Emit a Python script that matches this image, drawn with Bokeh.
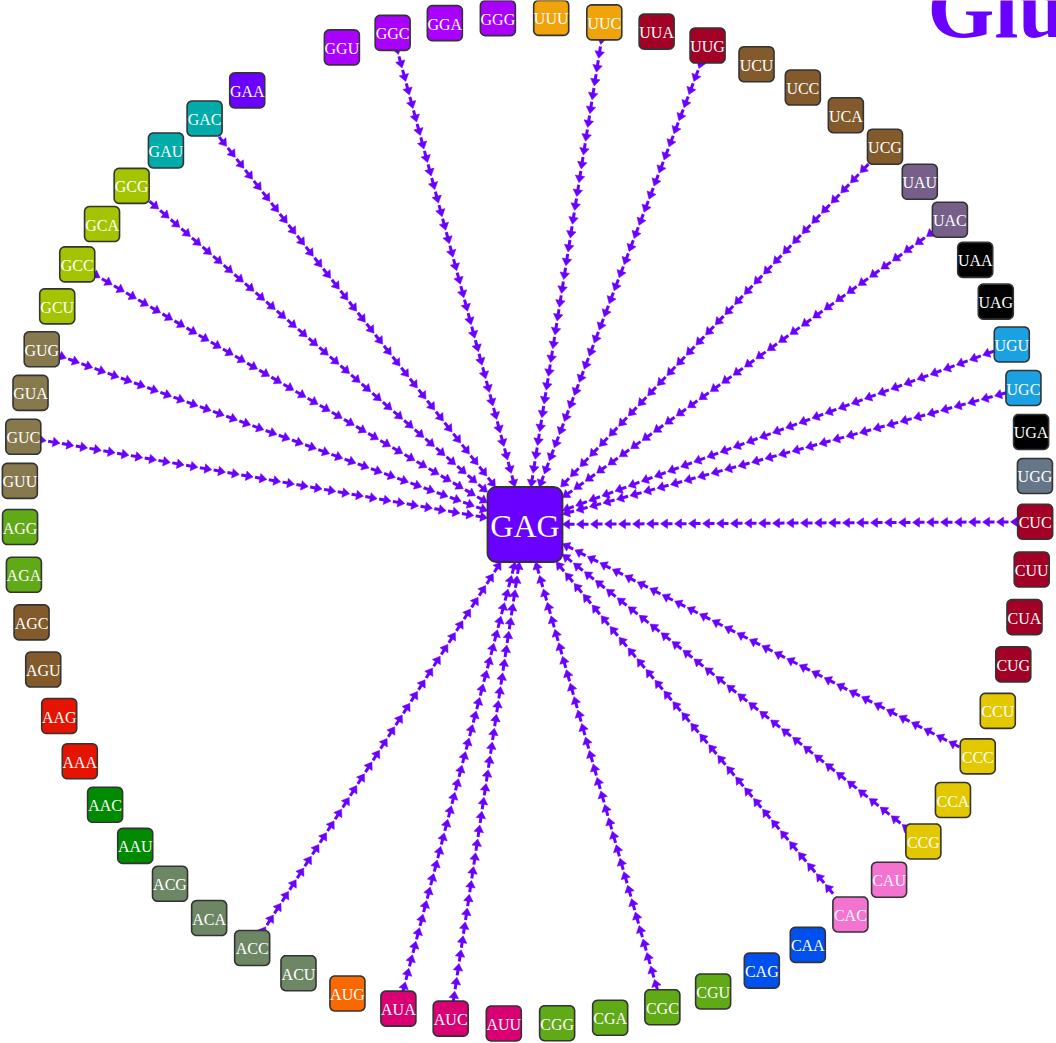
import numpy as np
from bokeh.plotting import figure
from bokeh.models import Range1d, ColumnDataSource
from bokeh.core.properties import value
from bokeh.embed import file_html
from bokeh.resources import INLINE

# ---------------- data ----------------
title_text = "Glu"
hub_codon = "GAG"

# codons around the ring, clockwise from the top (GAG's own slot is left empty)
ring_codons = ["GGU", "GGC", "GGA", "GGG", "UUU", "UUC", "UUA", "UUG",
               "UCU", "UCC", "UCA", "UCG", "UAU", "UAC", "UAA", "UAG",
               "UGU", "UGC", "UGA", "UGG", "CUC", "CUU", "CUA", "CUG",
               "CCU", "CCC", "CCA", "CCG", "CAU", "CAC", "CAA", "CAG",
               "CGU", "CGC", "CGA", "CGG", "AUU", "AUC", "AUA", "AUG",
               "ACU", "ACC", "ACA", "ACG", "AAU", "AAC", "AAA", "AAG",
               "AGU", "AGC", "AGA", "AGG", "GUU", "GUC", "GUA", "GUG",
               "GCU", "GCC", "GCA", "GCG", "GAU", "GAC", "GAA"]

# codons linked to the hub codon
linked_codons = ["GGC", "UUC", "UUG", "UCG", "UAC", "UGU", "UGC", "CUC",
                 "CCC", "CCG", "CAC", "CGC", "AUC", "AUA", "ACC", "GUC",
                 "GUG", "GCC", "GCG", "GAC"]

# amino acid of each codon
codon_groups = {
    "Gly": ["GGU", "GGC", "GGA", "GGG"],
    "Phe": ["UUU", "UUC"],
    "Leu": ["UUA", "UUG", "CUU", "CUC", "CUA", "CUG"],
    "Ser": ["UCU", "UCC", "UCA", "UCG", "AGU", "AGC"],
    "Tyr": ["UAU", "UAC"],
    "Stop": ["UAA", "UAG", "UGA"],
    "Cys": ["UGU", "UGC"],
    "Trp": ["UGG"],
    "Pro": ["CCU", "CCC", "CCA", "CCG"],
    "His": ["CAU", "CAC"],
    "Gln": ["CAA", "CAG"],
    "Arg": ["CGU", "CGC", "CGA", "CGG", "AGA", "AGG"],
    "Ile": ["AUU", "AUC", "AUA"],
    "Met": ["AUG"],
    "Thr": ["ACU", "ACC", "ACA", "ACG"],
    "Lys": ["AAA", "AAG"],
    "Asn": ["AAU", "AAC"],
    "Val": ["GUU", "GUC", "GUA", "GUG"],
    "Ala": ["GCU", "GCC", "GCA", "GCG"],
    "Asp": ["GAU", "GAC"],
    "Glu": ["GAA", "GAG"],
}

# ---------------- styles ----------------
aa_colors = {
    "Gly": "#aa00ff", "Phe": "#f0a30a", "Leu": "#a20025", "Ser": "#825a2c",
    "Tyr": "#76608a", "Stop": "#000000", "Cys": "#1ba1e2", "Trp": "#647687",
    "Pro": "#e3c800", "His": "#f472d0", "Gln": "#0050ef", "Arg": "#60a917",
    "Ile": "#d80073", "Met": "#fa6800", "Thr": "#6d8764", "Lys": "#e51400",
    "Asn": "#008a00", "Val": "#87794e", "Ala": "#a4c400", "Asp": "#00aba9",
    "Glu": "#6a00ff",
}
ACCENT = "#6a00ff"
BORDER = "#333333"
FONT = "Liberation Serif"

# ---------------- layout ----------------
W, H = 1056, 1043
RING_CX, RING_CY = 527.0, 500.0
R0, R_BUMP = 508.0, 8.0
TOP_SCALE, BOT_SCALE = 0.951, 1.0305
SLOTS = 64
T0 = 110.0
WARP = 2.0
HUB_X, HUB_Y = 524.5, 524.0
BOX_HALF, BOX_RAD = 17.5, 5.0
HUB_HALF, HUB_RAD = 37.5, 9.0
TITLE_X, TITLE_Y = 927, 7


def ring_pos(k):
    t = np.radians(T0 - k * 360.0 / SLOTS)
    phi = t - np.radians(WARP) * np.sin(2 * t)
    r = R0 + R_BUMP * np.sin(2 * t) ** 2
    s = np.sin(phi)
    x = RING_CX + r * np.cos(phi)
    y = RING_CY - r * s * (TOP_SCALE if s > 0 else BOT_SCALE)
    return x, y


def rounded_box(cx, cy, half, rad, n=7):
    xs, ys = [], []
    for q in range(4):
        sx = 1 if q in (0, 3) else -1
        sy = 1 if q in (0, 1) else -1
        ox, oy = cx + sx * (half - rad), cy + sy * (half - rad)
        for a in np.linspace(q * 90, q * 90 + 90, n):
            xs.append(ox + rad * np.cos(np.radians(a)))
            ys.append(oy + rad * np.sin(np.radians(a)))
    return xs, ys


codon_aa = {c: aa for aa, cs in codon_groups.items() for c in cs}
pos = {c: ring_pos(k) for k, c in enumerate(ring_codons)}

p = figure(width=W, height=H, output_backend="svg", toolbar_location=None,
           x_range=Range1d(0, W), y_range=Range1d(H, 0),
           min_border=0, outline_line_color=None, background_fill_color="white")
p.axis.visible = False
p.grid.visible = False

# ---------- edges: chains of small arrows pointing to the hub ----------
HL, HW, SL, SW, PERIOD = 7.0, 4.8, 5.0, 3.0, 14.0
hx, hy, sx0, sy0, sx1, sy1 = [], [], [], [], [], []
for c in linked_codons:
    cx, cy = pos[c]
    dx, dy = HUB_X - cx, HUB_Y - cy
    L = np.hypot(dx, dy)
    ux, uy = dx / L, dy / L
    m = max(abs(ux), abs(uy))
    s_start = BOX_HALF / m
    s_end = L - HUB_HALF / m
    tip = s_end
    while tip - HL * 0.5 >= s_start:
        tx, ty = cx + ux * tip, cy + uy * tip
        bx, by = tx - ux * HL, ty - uy * HL
        hx.append([tx, bx - uy * HW, bx + uy * HW])
        hy.append([ty, by + ux * HW, by - ux * HW])
        sx0.append(bx + ux * 0.5)
        sy0.append(by + uy * 0.5)
        sx1.append(bx - ux * SL)
        sy1.append(by - uy * SL)
        tip -= PERIOD

p.segment(x0=sx0, y0=sy0, x1=sx1, y1=sy1, line_color=ACCENT, line_width=SW)
p.patches(xs=hx, ys=hy, fill_color=ACCENT, line_color=ACCENT, line_width=0.5)

# ---------- ring boxes ----------
bxs, bys, fills = [], [], []
for c in ring_codons:
    x, y = pos[c]
    xs, ys = rounded_box(x, y, BOX_HALF, BOX_RAD)
    bxs.append(xs)
    bys.append(ys)
    fills.append(aa_colors[codon_aa[c]])
p.patches(xs=bxs, ys=bys, fill_color=fills, line_color=BORDER, line_width=1.6)

tsrc = ColumnDataSource(dict(x=[pos[c][0] for c in ring_codons],
                             y=[pos[c][1] + 1 for c in ring_codons],
                             t=ring_codons))
p.text(x="x", y="y", text="t", source=tsrc, text_color="white",
       text_font=value(FONT), text_font_size="16px",
       text_align="center", text_baseline="middle")

# ---------- hub ----------
gx, gy = rounded_box(HUB_X, HUB_Y, HUB_HALF, HUB_RAD)
p.patch(gx, gy, fill_color=aa_colors[codon_aa[hub_codon]], line_color=BORDER, line_width=1.8)
p.text(x=[HUB_X], y=[HUB_Y + 1], text=[hub_codon], text_color="white",
       text_font=value(FONT), text_font_size="32px",
       text_align="center", text_baseline="middle")

# ---------- title (partly outside the frame, as in the original) ----------
p.text(x=[TITLE_X], y=[TITLE_Y], text=[title_text], text_color=ACCENT,
       text_font=value(FONT), text_font_size="86px", text_font_style="bold",
       text_align="left", text_baseline="alphabetic")

open("out.html", "w").write(file_html(p, INLINE))
